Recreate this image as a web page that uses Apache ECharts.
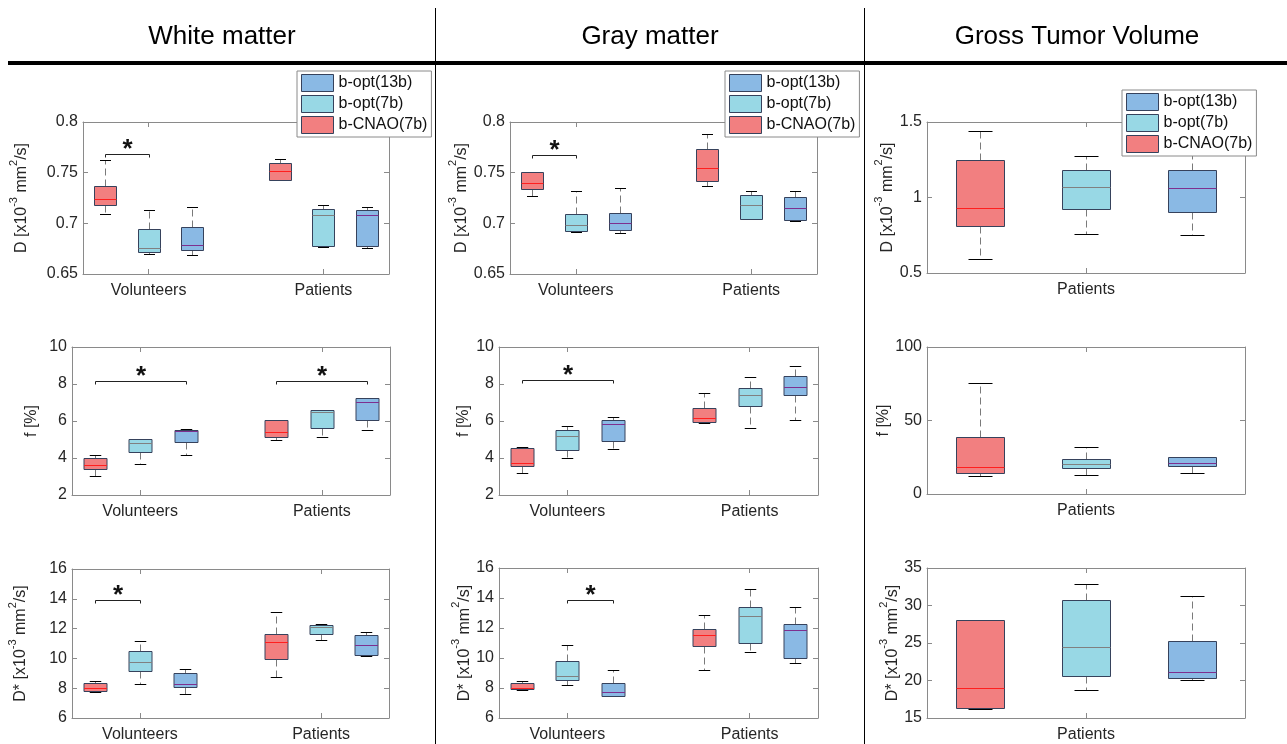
<!DOCTYPE html>
<html>
<head>
<meta charset="utf-8">
<script src="https://cdn.jsdelivr.net/npm/echarts@6/dist/echarts.min.js"></script>
<style>
html, body { margin: 0; padding: 0; background: #fff; }
#chart { width: 1287px; height: 744px; }
</style>
</head>
<body>
<div id="chart"></div>
<script>
// ---- labels ----
const regions = ['White matter', 'Gray matter', 'Gross Tumor Volume'];
const methods = ['b-CNAO(7b)', 'b-opt(7b)', 'b-opt(13b)'];
const legendOrder = ['b-opt(13b)', 'b-opt(7b)', 'b-CNAO(7b)'];
const groupsBrain = ['Volunteers', 'Patients'];
const groupsTumor = ['Patients'];

// ---- y tick values ----
const dTicks = [0.65, 0.7, 0.75, 0.8];
const fTicks = [2, 4, 6, 8, 10];
const dsTicks = [6, 8, 10, 12, 14, 16];
const gtvDTicks = [0.5, 1, 1.5];
const gtvFTicks = [0, 50, 100];
const gtvDsTicks = [15, 20, 25, 30, 35];

// ---- five-number summaries [min, q1, median, q3, max], one row per group ----
// White matter, D
const wmD_cnao = [[0.709, 0.7182, 0.7239, 0.7367, 0.7624], [0.7426, 0.7426, 0.7515, 0.7595, 0.7634]];
const wmD_opt7 = [[0.6698, 0.6714, 0.6754, 0.6942, 0.713], [0.6764, 0.6774, 0.708, 0.714, 0.7176]];
const wmD_opt13 = [[0.6685, 0.6734, 0.6784, 0.6962, 0.7159], [0.6757, 0.6774, 0.708, 0.713, 0.7166]];
// White matter, f
const wmF_cnao = [[3.01, 3.38, 3.60, 3.98, 4.14], [5.00, 5.11, 5.43, 6.06, 6.08]];
const wmF_opt7 = [[3.65, 4.34, 4.79, 5.04, 5.04], [5.11, 5.63, 6.51, 6.62, 6.62]];
const wmF_opt13 = [[4.14, 4.84, 5.45, 5.54, 5.58], [5.54, 6.08, 7.05, 7.27, 7.27]];
// White matter, D*
const wmDs_cnao = [[7.74, 7.81, 8.01, 8.37, 8.46], [8.75, 9.95, 11.09, 11.63, 13.10]];
const wmDs_opt7 = [[8.28, 9.15, 9.75, 10.49, 11.2], [11.22, 11.63, 12.14, 12.23, 12.34]];
const wmDs_opt13 = [[7.61, 8.05, 8.28, 8.99, 9.28], [10.15, 10.22, 10.89, 11.60, 11.74]];
// Gray matter, D
const gmD_cnao = [[0.7271, 0.734, 0.7396, 0.7511, 0.7511], [0.7373, 0.7416, 0.755, 0.7734, 0.7882]];
const gmD_opt7 = [[0.691, 0.692, 0.6979, 0.7088, 0.7324], [0.7042, 0.7045, 0.7183, 0.7278, 0.7324]];
const gmD_opt13 = [[0.69, 0.6937, 0.6999, 0.7104, 0.7353], [0.7019, 0.7035, 0.7147, 0.7261, 0.7324]];
// Gray matter, f
const gmF_cnao = [[3.17, 3.55, 3.73, 4.55, 4.58], [5.88, 5.97, 6.15, 6.68, 7.51]];
const gmF_opt7 = [[3.99, 4.42, 5.18, 5.50, 5.72], [5.61, 6.82, 7.40, 7.78, 8.37]];
const gmF_opt13 = [[4.47, 4.94, 5.83, 6.08, 6.24], [6.05, 7.38, 7.83, 8.45, 8.97]];
// Gray matter, D*
const gmDs_cnao = [[7.90, 7.94, 8.03, 8.32, 8.48], [9.17, 10.80, 11.51, 11.94, 12.90]];
const gmDs_opt7 = [[8.23, 8.54, 8.83, 9.77, 10.89], [10.38, 11.02, 12.79, 13.41, 14.59]];
const gmDs_opt13 = [[7.50, 7.50, 7.72, 8.34, 9.17], [9.64, 9.97, 11.85, 12.29, 13.39]];
// Gross tumor volume
const gtvD_cnao = [[0.593, 0.813, 0.93, 1.247, 1.438]];
const gtvD_opt7 = [[0.76, 0.923, 1.068, 1.181, 1.278]];
const gtvD_opt13 = [[0.751, 0.903, 1.062, 1.181, 1.284]];
const gtvF_cnao = [[12.2, 14.3, 18.4, 38.8, 75.5]];
const gtvF_opt7 = [[12.9, 17.7, 20.4, 23.8, 32.0]];
const gtvF_opt13 = [[14.3, 19.0, 21.1, 25.2, 25.2]];
const gtvDs_cnao = [[16.24, 16.38, 19.0, 28.02, 28.07]];
const gtvDs_opt7 = [[18.73, 20.64, 24.51, 30.78, 32.87]];
const gtvDs_opt13 = [[20.11, 20.33, 21.13, 25.27, 31.31]];

// ---- significant differences [group, from method, to method, bracket level] ----
const wmD_sig = [[0, 0, 1, 0.7687]];
const wmF_sig = [[0, 0, 2, 8.15], [1, 0, 2, 8.15]];
const wmDs_sig = [[0, 0, 1, 13.9]];
const gmD_sig = [[0, 0, 1, 0.7672]];
const gmF_sig = [[0, 0, 2, 8.19]];
const gmDs_sig = [[0, 1, 2, 13.86]];

// ---- styling ----
const FONT = '"Liberation Sans", Arial, Helvetica, sans-serif';
const fillColors = ['#f27f80', '#98d8e5', '#8ab9e4'];
const medianColors = ['#ff1f1f', '#808080', '#7e2f8e'];
const edgeColor = '#36425c';
const frameColor = '#8a8a8a';
const labelColor = '#262626';

const dName = '{n|D [x10}{s|-3}{n| mm}{s|2}{n|/s]}';
const dsName = '{n|D* [x10}{s|-3}{n| mm}{s|2}{n|/s]}';
const fName = '{n|f [%]}';

// grid rectangle [left, top, width, height], name distance, box width (axis units)
const panels = [
  { rect: [83, 122, 306, 152], groups: groupsBrain, ticks: dTicks, name: dName, gap: 53, boxW: 0.5, data: [wmD_cnao, wmD_opt7, wmD_opt13], sig: wmD_sig },
  { rect: [72, 347, 318, 148], groups: groupsBrain, ticks: fTicks, name: fName, gap: 32, boxW: 0.5, data: [wmF_cnao, wmF_opt7, wmF_opt13], sig: wmF_sig },
  { rect: [72, 569, 317, 149], groups: groupsBrain, ticks: dsTicks, name: dsName, gap: 43, boxW: 0.5, data: [wmDs_cnao, wmDs_opt7, wmDs_opt13], sig: wmDs_sig },
  { rect: [510, 122, 307, 152], groups: groupsBrain, ticks: dTicks, name: dName, gap: 38, boxW: 0.5, data: [gmD_cnao, gmD_opt7, gmD_opt13], sig: gmD_sig },
  { rect: [499, 347, 319, 148], groups: groupsBrain, ticks: fTicks, name: fName, gap: 27, boxW: 0.5, data: [gmF_cnao, gmF_opt7, gmF_opt13], sig: gmF_sig },
  { rect: [499, 568, 319, 150], groups: groupsBrain, ticks: dsTicks, name: dsName, gap: 25, boxW: 0.5, data: [gmDs_cnao, gmDs_opt7, gmDs_opt13], sig: gmDs_sig },
  { rect: [927, 122, 318, 151], groups: groupsTumor, ticks: gtvDTicks, name: dName, gap: 28, boxW: 0.45, data: [gtvD_cnao, gtvD_opt7, gtvD_opt13], sig: [] },
  { rect: [927, 347, 318, 147], groups: groupsTumor, ticks: gtvFTicks, name: fName, gap: 33, boxW: 0.45, data: [gtvF_cnao, gtvF_opt7, gtvF_opt13], sig: [] },
  { rect: [927, 568, 318, 150], groups: groupsTumor, ticks: gtvDsTicks, name: dsName, gap: 26, boxW: 0.45, data: [gtvDs_cnao, gtvDs_opt7, gtvDs_opt13], sig: [] }
];

const px = v => Math.round(v) + 0.5;

function makeBox(mi, boxW) {
  return function (params, api) {
    const x = api.value(0);
    const pts = [1, 2, 3, 4, 5].map(i => api.coord([x, api.value(i)]));
    const cx = px(pts[0][0]);
    const w = Math.round(api.size([boxW, 0])[0]);
    const half = w / 2;
    const capHalf = w / 4;
    const [yMin, yQ1, yMed, yQ3, yMax] = pts.map(p => px(p[1]));
    const dashed = { stroke: '#7a7a7a', lineWidth: 1, lineDash: [7, 4] };
    const solid = { stroke: '#000', lineWidth: 1 };
    return {
      type: 'group',
      children: [
        { type: 'line', shape: { x1: cx, y1: yQ3, x2: cx, y2: yMax }, style: dashed },
        { type: 'line', shape: { x1: cx, y1: yQ1, x2: cx, y2: yMin }, style: dashed },
        { type: 'line', shape: { x1: cx - capHalf, y1: yMax, x2: cx + capHalf, y2: yMax }, style: solid },
        { type: 'line', shape: { x1: cx - capHalf, y1: yMin, x2: cx + capHalf, y2: yMin }, style: solid },
        { type: 'rect', shape: { x: cx - half, y: yQ3, width: w, height: yQ1 - yQ3 },
          style: { fill: fillColors[mi], stroke: edgeColor, lineWidth: 1 } },
        { type: 'line', shape: { x1: cx - half, y1: yMed, x2: cx + half, y2: yMed },
          style: { stroke: medianColors[mi], lineWidth: 1 } }
      ]
    };
  };
}

function renderSig(params, api) {
  const a = api.coord([api.value(0), api.value(2)]);
  const b = api.coord([api.value(1), api.value(2)]);
  const y = px(a[1]);
  const x1 = px(a[0]);
  const x2 = px(b[0]);
  return {
    type: 'group',
    children: [
      { type: 'polyline', shape: { points: [[x1, y + 3], [x1, y], [x2, y], [x2, y + 3]] },
        style: { stroke: '#222', lineWidth: 1, fill: null } },
      { type: 'text', x: (x1 + x2) / 2, y: y - 5,
        style: { text: '*', fontSize: 26, fontWeight: 'bold', fontFamily: FONT, fill: '#111',
                 align: 'center', verticalAlign: 'middle' } }
    ]
  };
}

const option = {
  animation: false,
  backgroundColor: '#fff',
  grid: [],
  xAxis: [],
  yAxis: [],
  series: [],
  legend: [],
  graphic: []
};

panels.forEach((p, pi) => {
  option.grid.push({ left: p.rect[0], top: p.rect[1], width: p.rect[2], height: p.rect[3], show: false });
  const nSlots = p.groups.length * 4 - 1;
  const centers = p.groups.map((g, gi) => gi * 4 + 2);
  const lineStyle = { color: frameColor, width: 1 };
  const tickStyle = { show: true, inside: true, length: 5, lineStyle: { color: frameColor } };

  option.xAxis.push({
    gridIndex: pi, type: 'value', position: 'bottom', min: 0.5, max: nSlots + 0.5,
    axisLine: { show: true, onZero: false, lineStyle },
    axisTick: Object.assign({ customValues: centers }, tickStyle),
    axisLabel: { customValues: centers, formatter: v => p.groups[Math.round((v - 2) / 4)] || '',
                 color: labelColor, fontSize: 16, fontFamily: FONT, margin: 9 },
    splitLine: { show: false }
  });
  option.xAxis.push({
    gridIndex: pi, type: 'value', position: 'top', min: 0.5, max: nSlots + 0.5,
    axisLine: { show: true, onZero: false, lineStyle },
    axisTick: Object.assign({ customValues: centers }, tickStyle),
    axisLabel: { show: false },
    splitLine: { show: false }
  });

  const t = p.ticks;
  const interval = +(t[1] - t[0]).toFixed(6);
  option.yAxis.push({
    gridIndex: pi, type: 'value', position: 'left', min: t[0], max: t[t.length - 1], interval,
    axisLine: { show: true, onZero: false, lineStyle },
    axisTick: tickStyle,
    axisLabel: { color: labelColor, fontSize: 16, fontFamily: FONT, margin: 5 },
    splitLine: { show: false },
    name: p.name, nameLocation: 'middle', nameRotate: 90, nameGap: p.gap,
    nameTextStyle: {
      color: labelColor, fontFamily: FONT,
      rich: {
        n: { fontSize: 16, fontFamily: FONT, color: labelColor, lineHeight: 22, verticalAlign: 'bottom' },
        s: { fontSize: 11, fontFamily: FONT, color: labelColor, lineHeight: 11, verticalAlign: 'top' }
      }
    }
  });
  option.yAxis.push({
    gridIndex: pi, type: 'value', position: 'right', min: t[0], max: t[t.length - 1], interval,
    axisLine: { show: true, onZero: false, lineStyle },
    axisTick: tickStyle,
    axisLabel: { show: false },
    splitLine: { show: false }
  });

  p.data.forEach((rows, mi) => {
    option.series.push({
      type: 'custom', name: methods[mi], coordinateSystem: 'cartesian2d',
      xAxisIndex: pi * 2, yAxisIndex: pi * 2, silent: true, z: 2,
      itemStyle: { color: fillColors[mi] },
      encode: { x: 0, y: [1, 2, 3, 4, 5] },
      data: rows.map((r, gi) => [gi * 4 + mi + 1].concat(r)),
      renderItem: makeBox(mi, p.boxW)
    });
  });

  if (p.sig.length) {
    option.series.push({
      type: 'custom', coordinateSystem: 'cartesian2d',
      xAxisIndex: pi * 2, yAxisIndex: pi * 2, silent: true, z: 3,
      encode: { x: [0, 1], y: 2 },
      data: p.sig.map(s => [s[0] * 4 + s[1] + 1, s[0] * 4 + s[2] + 1, s[3]]),
      renderItem: renderSig
    });
  }
});

// one legend box per column
[[297, 71], [725, 71], [1122, 90]].forEach(([l, tp]) => {
  option.legend.push({
    left: l, top: tp, orient: 'vertical', icon: 'rect',
    itemWidth: 32, itemHeight: 17, itemGap: 3,
    padding: [3, 4, 3, 4],
    backgroundColor: '#fff', borderColor: frameColor, borderWidth: 1,
    selectedMode: false, z: 10,
    textStyle: { fontSize: 16, color: '#111', fontFamily: FONT },
    data: legendOrder.map(n => ({
      name: n,
      itemStyle: { color: fillColors[methods.indexOf(n)], borderColor: edgeColor, borderWidth: 1 }
    }))
  });
});

// column titles and separators
const titleX = [222, 650, 1077];
regions.forEach((r, i) => {
  option.graphic.push({
    type: 'text', x: titleX[i], y: 37, z: 20,
    style: { text: r, fontSize: 26, fontFamily: FONT, fill: '#000', align: 'center', verticalAlign: 'middle' }
  });
});
option.graphic.push({ type: 'line', z: 20, shape: { x1: 8, y1: 63, x2: 1287, y2: 63 }, style: { stroke: '#000', lineWidth: 4 } });
[435.5, 864.5].forEach(x => {
  option.graphic.push({ type: 'line', z: 20, shape: { x1: x, y1: 8, x2: x, y2: 744 }, style: { stroke: '#000', lineWidth: 1 } });
});

const chart = echarts.init(document.getElementById('chart'), null, { renderer: 'canvas' });
chart.setOption(option);
</script>
</body>
</html>
